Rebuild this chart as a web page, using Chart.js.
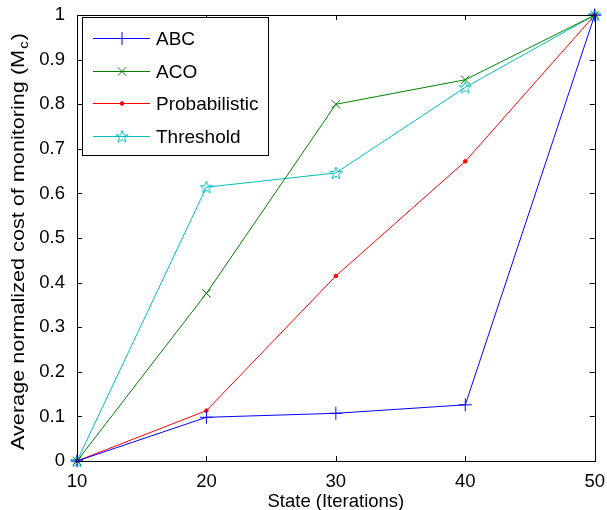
<!DOCTYPE html>
<html>
<head>
<meta charset="utf-8">
<script src="https://cdn.jsdelivr.net/npm/chart.js@4.4.1/dist/chart.umd.min.js"></script>
<style>
  html, body { margin: 0; padding: 0; background: #fff; }
  #wrap { width: 607px; height: 510px; }
</style>
</head>
<body>
<div id="wrap"><canvas id="chart" width="607" height="510"></canvas></div>
<script>
// values
let states = [10, 20, 30, 40, 50];
let abc = [0, 0.098, 0.107, 0.126, 1];
let aco = [0, 0.376, 0.80, 0.855, 1];
let probabilistic = [0, 0.113, 0.415, 0.672, 1];
let threshold = [0, 0.614, 0.646, 0.838, 1];
let seriesNames = ["ABC", "ACO", "Probabilistic", "Threshold"];
let yTickLabels = ["0", "0.1", "0.2", "0.3", "0.4", "0.5", "0.6", "0.7", "0.8", "0.9", "1"];

const FONT = "'Liberation Sans', Arial, Helvetica, sans-serif";

// matlab style unfilled pentagram marker
function makeStar(color) {
    let c = document.createElement("canvas");
    c.width = 16; c.height = 16;
    let g = c.getContext("2d");
    g.strokeStyle = color;
    g.lineWidth = 1;
    g.beginPath();
    for (let i = 0; i < 10; i++) {
        let r = i % 2 === 0 ? 6.5 : 2.7;
        let a = -Math.PI / 2 + i * Math.PI / 5;
        let px = 8 + r * Math.cos(a), py = 8.5 + r * Math.sin(a);
        if (i === 0) g.moveTo(px, py); else g.lineTo(px, py);
    }
    g.closePath();
    g.stroke();
    return c;
}

function toPoints(vals) {
    return vals.map((v, i) => ({ x: states[i], y: v }));
}

let starImg = makeStar("#00bfbf");

let datasets = [
    { label: seriesNames[0], data: toPoints(abc), borderColor: "#0000ff", backgroundColor: "#0000ff",
      pointStyle: "cross", pointRadius: 6.5, pointBorderWidth: 1 },
    { label: seriesNames[1], data: toPoints(aco), borderColor: "#008000", backgroundColor: "#008000",
      pointStyle: "crossRot", pointRadius: 6, pointBorderWidth: 1 },
    { label: seriesNames[2], data: toPoints(probabilistic), borderColor: "#ff0000", backgroundColor: "#ff0000",
      pointStyle: "circle", pointRadius: 1.8, pointBorderWidth: 1 },
    { label: seriesNames[3], data: toPoints(threshold), borderColor: "#00bfbf", backgroundColor: "#00bfbf",
      pointStyle: starImg, pointRadius: 7, pointBorderWidth: 1 }
];
datasets.forEach(d => { d.borderWidth = 1; d.tension = 0; d.clip = false; });

// box, inside ticks, y title with subscript and the legend
const matlabPlugin = {
    id: "matlab",
    afterDraw(chart) {
        let ctx = chart.ctx;
        let a = chart.chartArea;
        let xs = chart.scales.x, ys = chart.scales.y;
        ctx.save();
        ctx.strokeStyle = "#000";
        ctx.lineWidth = 1;
        ctx.beginPath();
        states.forEach(v => {
            let px = Math.round(xs.getPixelForValue(v)) + 0.5;
            ctx.moveTo(px, a.bottom); ctx.lineTo(px, a.bottom - 5);
            ctx.moveTo(px, a.top); ctx.lineTo(px, a.top + 5);
        });
        yTickLabels.forEach(t => {
            let py = Math.round(ys.getPixelForValue(parseFloat(t))) + 0.5;
            ctx.moveTo(a.left, py); ctx.lineTo(a.left + 5, py);
            ctx.moveTo(a.right, py); ctx.lineTo(a.right - 5, py);
        });
        ctx.stroke();
        ctx.strokeRect(Math.round(a.left) + 0.5, Math.round(a.top) + 0.5,
            Math.round(a.right - a.left), Math.round(a.bottom - a.top));

        // y axis title, stretched a little along its length like the original
        ctx.save();
        ctx.translate(23.5, 241.5);
        ctx.rotate(-Math.PI / 2);
        ctx.fillStyle = "#000";
        ctx.textBaseline = "alphabetic";
        let main = "Average normalized cost of monitoring (M";
        ctx.font = "19px " + FONT;
        let w1 = ctx.measureText(main).width;
        let w3 = ctx.measureText(")").width;
        ctx.font = "13px " + FONT;
        let w2 = ctx.measureText("c").width + 2;
        let total = w1 + w2 + w3;
        ctx.scale(417 / total, 1);
        let x0 = -total / 2;
        ctx.font = "19px " + FONT;
        ctx.fillText(main, x0, 0);
        ctx.font = "13px " + FONT;
        ctx.fillText("c", x0 + w1 + 1, 4);
        ctx.font = "19px " + FONT;
        ctx.fillText(")", x0 + w1 + w2, 0);
        ctx.restore();

        // legend
        let lx = 82, ly = 17, lw = 186, lh = 138;
        ctx.fillStyle = "#fff";
        ctx.fillRect(lx, ly, lw, lh);
        ctx.strokeRect(lx + 0.5, ly + 0.5, lw, lh);
        ctx.font = "19px " + FONT;
        ctx.textBaseline = "middle";
        chart.data.datasets.forEach((d, i) => {
            let y = Math.round(ly + 21 + i * 32.7) + 0.5;
            ctx.strokeStyle = d.borderColor;
            ctx.fillStyle = d.backgroundColor;
            ctx.beginPath();
            ctx.moveTo(93, y); ctx.lineTo(150, y);
            ctx.stroke();
            Chart.helpers.drawPoint(ctx, {
                pointStyle: d.pointStyle, radius: d.pointRadius,
                rotation: 0, borderWidth: 1
            }, 122, y);
            ctx.fillStyle = "#000";
            ctx.fillText(d.label, 156, y + 1);
        });
        ctx.restore();
    }
};

new Chart(document.getElementById("chart"), {
    type: "line",
    data: { datasets: datasets },
    plugins: [matlabPlugin],
    options: {
        responsive: false,
        animation: false,
        devicePixelRatio: 1,
        layout: { padding: { left: 0, top: 15, right: 11, bottom: 0 } },
        plugins: { legend: { display: false }, tooltip: { enabled: false } },
        scales: {
            x: {
                type: "linear", min: 10, max: 50,
                grid: { display: false }, border: { display: false },
                ticks: { stepSize: 10, color: "#000", padding: 2, maxRotation: 0,
                         font: { family: FONT, size: 18.5 } },
                title: { display: true, text: "State (Iterations)", color: "#000", padding: { top: 0, bottom: -3 },
                         font: { family: FONT, size: 18.5 } },
                afterFit(s) { s.height = 49; }
            },
            y: {
                min: 0, max: 1,
                grid: { display: false }, border: { display: false },
                ticks: { stepSize: 0.1, color: "#000", padding: 4,
                         font: { family: FONT, size: 18.5 },
                         callback: (v) => yTickLabels[Math.round(v * 10)] },
                afterFit(s) { s.width = 77; }
            }
        }
    }
});
</script>
</body>
</html>
